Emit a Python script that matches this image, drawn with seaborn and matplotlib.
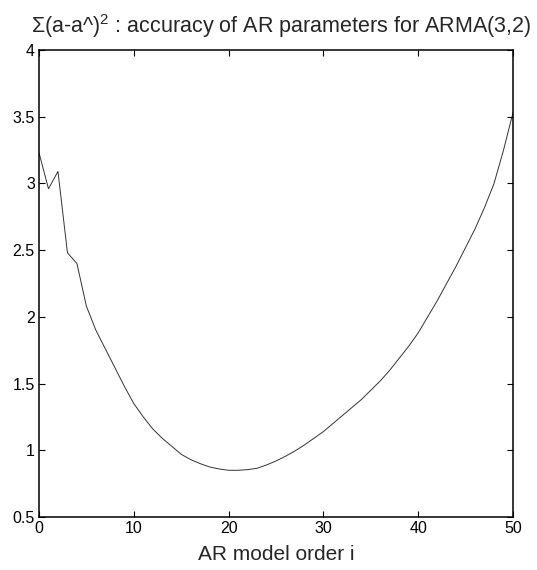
import matplotlib
matplotlib.use("Agg")
import matplotlib.pyplot as plt
import seaborn as sns
import pandas as pd

order = list(range(0, 51))
error = [3.23, 2.96, 3.09, 2.48, 2.40, 2.08, 1.90, 1.76, 1.62, 1.48,
         1.35, 1.25, 1.16, 1.09, 1.03, 0.97, 0.93, 0.90, 0.875, 0.86,
         0.85, 0.85, 0.855, 0.865, 0.89, 0.92, 0.955, 0.995, 1.04, 1.09,
         1.14, 1.20, 1.26, 1.32, 1.38, 1.45, 1.52, 1.60, 1.69, 1.78,
         1.88, 2.00, 2.12, 2.25, 2.38, 2.52, 2.66, 2.82, 3.00, 3.25,
         3.53]
xticks = [0, 10, 20, 30, 40, 50]
yticks = [0.5, 1, 1.5, 2, 2.5, 3, 3.5, 4]
ytick_labels = ["0.5", "1", "1.5", "2", "2.5", "3", "3.5", "4"]

sns.set_style("ticks")
plt.rcParams['font.family'] = ['Liberation Sans', 'DejaVu Sans']
plt.rcParams['mathtext.fontset'] = 'custom'
plt.rcParams['mathtext.rm'] = 'Liberation Sans'
plt.rcParams['mathtext.it'] = 'Liberation Sans'

df = pd.DataFrame({"order": order, "error": error})

fig = plt.figure(figsize=(5.37, 5.70), dpi=100)
ax = fig.add_axes([39/537, 1 - 517/570, (513 - 39)/537, (517 - 50)/570])
sns.lineplot(data=df, x="order", y="error", ax=ax, color="#333333", linewidth=0.7)

ax.set_xlim(0, 50)
ax.set_ylim(0.5, 4)
ax.set_xticks(xticks)
ax.set_xticklabels([str(t) for t in xticks])
ax.set_yticks(yticks)
ax.set_yticklabels(ytick_labels)
ax.tick_params(direction="in", top=True, right=True, length=4, width=0.8,
               labelsize=11.5, colors="black", pad=3)
for s in ax.spines.values():
    s.set_visible(True)
    s.set_linewidth(1.1)
    s.set_color("black")

ax.set_xlabel("AR model order i", fontsize=15, labelpad=6)
ax.set_ylabel("")
ax.set_title("Σ(a-a^)$^2$ : accuracy of AR parameters for ARMA(3,2)", fontsize=15.5, pad=12, x=0.51)

fig.savefig("out.png", dpi=100)
